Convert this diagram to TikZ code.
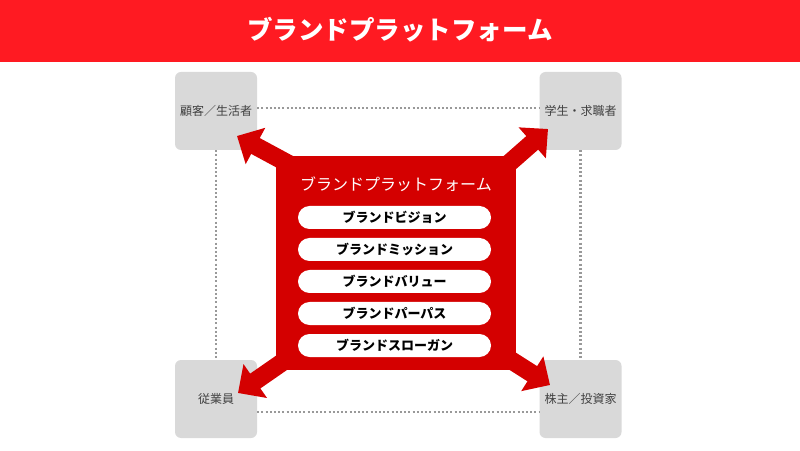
\documentclass[tikz,border=0pt]{standalone}
\usepackage{fontspec}
\setmainfont{Noto Sans CJK JP}
\usetikzlibrary{arrows.meta}
\definecolor{hdr}{HTML}{FF1A22}
\definecolor{core}{HTML}{D40000}
\definecolor{gbox}{HTML}{D9D9D9}
\definecolor{gtxt}{HTML}{404040}
\definecolor{dots}{HTML}{999999}
\tikzset{
  stake/.style={fill=gbox, rounded corners=6pt, minimum width=82pt, minimum height=78pt, inner sep=0pt, text=gtxt, font=\fontsize{12}{14}\selectfont},
  pill/.style={fill=white, rounded corners=11.5pt, minimum width=193pt, minimum height=23pt, inner sep=0pt, font=\bfseries\fontsize{13}{15}\selectfont},
  dotline/.style={draw=dots, line width=2.2pt, dash pattern=on 2pt off 2.2pt},
  bigarrow/.style={draw=core, line width=18pt, -{Triangle[length=21pt,width=40pt]}}
}
\begin{document}
\begin{tikzpicture}[x=1pt,y=1pt]
\useasboundingbox (0,0) rectangle (800,450);
\fill[white] (0,0) rectangle (800,450);
% header
\fill[hdr] (0,388) rectangle (800,450);
\node[text=white, font=\bfseries\fontsize{25.5}{28}\selectfont] (title) at (400,420) {ブランドプラットフォーム};
% stakeholder boxes
\node[stake] (tl) at (216,339) {顧客／生活者};
\node[stake] (tr) at (580.5,339) {学生・求職者};
\node[stake] (bl) at (216,51) {従業員};
\node[stake] (br) at (580.5,51) {株主／投資家};
% dotted links
\draw[dotline] ([yshift=3pt]tl.east) -- ([yshift=3pt]tr.west);
\draw[dotline] ([yshift=-13pt]bl.east) -- ([yshift=-13pt]br.west);
\draw[dotline] (tl.south) -- (bl.north);
\draw[dotline] (tr.south) -- (br.north);
% central box
\node[fill=core, minimum width=240pt, minimum height=214pt, inner sep=0pt] (core) at (396,187) {};
\coordinate (atl) at (237,314);
\coordinate (atr) at (548,321);
\coordinate (abl) at (238,57);
\coordinate (abr) at (550,65);
\draw[bigarrow] ([shift={(-96pt,93pt)}]core.center) -- (atl);
\draw[bigarrow] ([shift={(94pt,83pt)}]core.center) -- (atr);
\draw[bigarrow] ([shift={(-96pt,-87pt)}]core.center) -- (abl);
\draw[bigarrow] ([shift={(99pt,-87pt)}]core.center) -- (abr);
\node[text=white, font=\fontsize{16}{18}\selectfont] (ctitle) at (396,266) {ブランドプラットフォーム};
\node[pill] (p1) at (394.5,232.5) {ブランドビジョン};
\node[pill] (p2) at (394.5,200.5) {ブランドミッション};
\node[pill] (p3) at (394.5,168.5) {ブランドバリュー};
\node[pill] (p4) at (394.5,136.5) {ブランドパーパス};
\node[pill] (p5) at (394.5,104.5) {ブランドスローガン};
\end{tikzpicture}
\end{document}
